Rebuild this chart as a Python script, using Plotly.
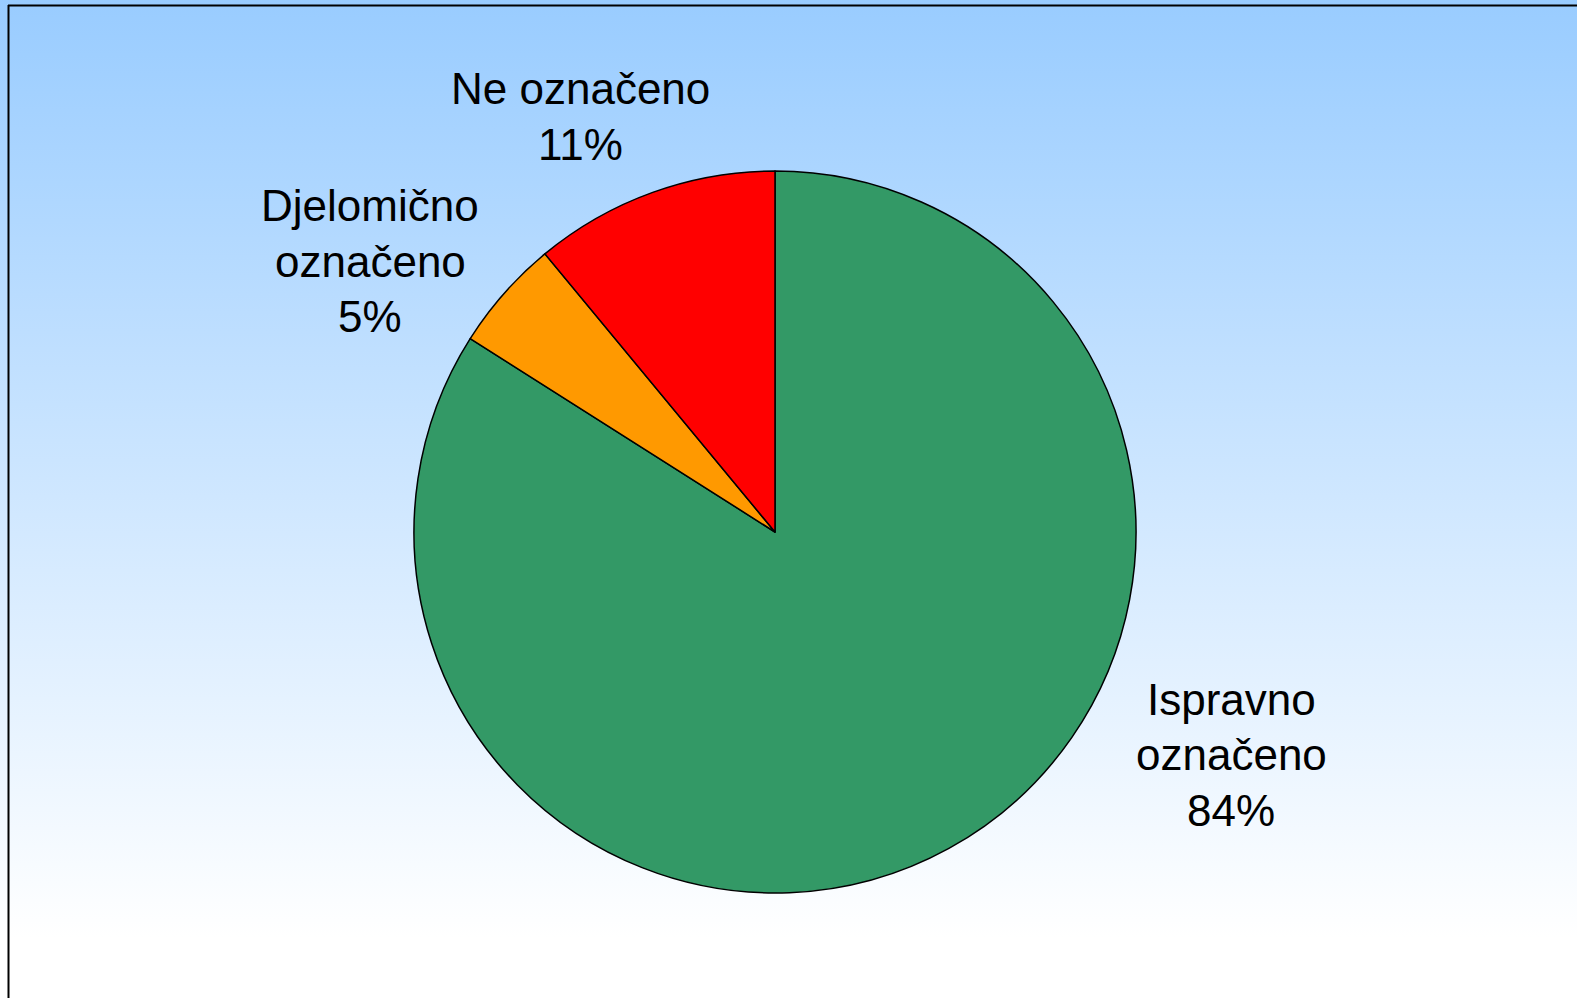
import plotly.graph_objects as go

label_lines = [["Ispravno", "označeno"], ["Djelomično", "označeno"], ["Ne označeno"]]
values = [84, 5, 11]
colors = ["#339966", "#FF9900", "#FF0000"]

W, H = 1577, 998

fig = go.Figure()

# gradient background via a filled scatter on hidden axes
fig.add_trace(go.Scatter(
    x=[0, 1, 1, 0, 0], y=[0, 0, 1, 1, 0], mode="lines",
    line=dict(width=0), fill="toself",
    fillgradient=dict(type="vertical",
                      colorscale=[[0, "#FFFFFF"], [0.06, "#FFFFFF"], [1, "#99CCFF"]]),
    hoverinfo="skip", showlegend=False,
))

cx, cy, r = 775, 532, 361
fig.add_trace(go.Pie(
    labels=[" ".join(l) for l in label_lines], values=values, sort=False,
    direction="clockwise", rotation=0,
    marker=dict(colors=colors, line=dict(color="black", width=1.5)),
    textinfo="none", hoverinfo="label+percent", showlegend=False,
    domain=dict(x=[(cx - r) / W, (cx + r) / W], y=[1 - (cy + r) / H, 1 - (cy - r) / H]),
))

total = sum(values)
# (x center, y of first line) in pixels; line spacing in pixels
label_pos = [(1231, 699), (370, 206), (580, 88.5)]
line_step = 55.5
for lines, v, (px, py) in zip(label_lines, values, label_pos):
    all_lines = lines + [f"{round(100 * v / total)}%"]
    for i, t in enumerate(all_lines):
        fig.add_annotation(
            x=px / W, y=1 - (py + i * line_step) / H, xref="paper", yref="paper",
            text=t, showarrow=False,
            font=dict(family="Liberation Sans, Arial", size=44, color="black"),
            xanchor="center", yanchor="middle", align="center",
        )

fig.add_shape(type="line", xref="paper", yref="paper",
              x0=8.5 / W, x1=8.5 / W, y0=0, y1=1 - 5 / H, line=dict(color="black", width=2))
fig.add_shape(type="line", xref="paper", yref="paper",
              x0=8 / W, x1=1, y0=1 - 5.5 / H, y1=1 - 5.5 / H, line=dict(color="black", width=2))

fig.update_layout(
    width=W, height=H, margin=dict(l=0, r=0, t=0, b=0),
    paper_bgcolor="white", plot_bgcolor="rgba(0,0,0,0)",
    xaxis=dict(visible=False, range=[0, 1], fixedrange=True),
    yaxis=dict(visible=False, range=[0, 1], fixedrange=True),
)

fig.write_html("out.html", config={"displayModeBar": False},
               post_script="document.body.style.margin='0';document.body.style.overflow='hidden';")
